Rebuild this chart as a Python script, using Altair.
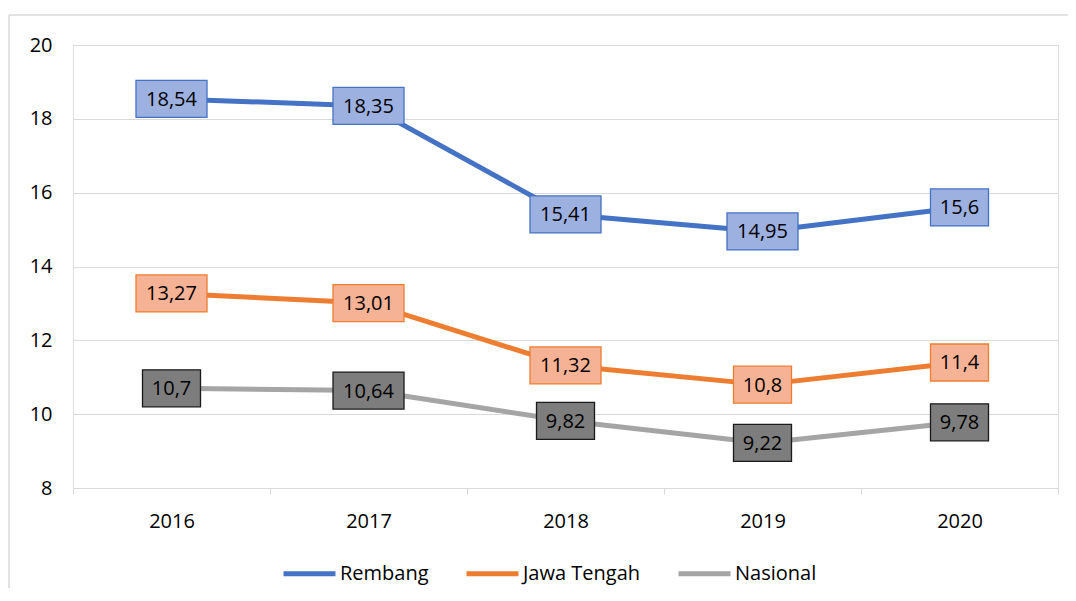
import altair as alt
import pandas as pd

years = ["2016", "2017", "2018", "2019", "2020"]
series_names = ["Rembang", "Jawa Tengah", "Nasional"]
rembang = [18.54, 18.35, 15.41, 14.95, 15.6]
jawa_tengah = [13.27, 13.01, 11.32, 10.8, 11.4]
nasional = [10.7, 10.64, 9.82, 9.22, 9.78]
y_ticks = [8, 10, 12, 14, 16, 18, 20]

line_colors = ["#4472C4", "#ED7D31", "#A5A5A5"]
box_fills = ["#9DB1E1", "#F6B294", "#7D7D7D"]
box_strokes = ["#4472C4", "#ED7D31", "#1A1A1A"]

rows = []
for name, vals in zip(series_names, [rembang, jawa_tengah, nasional]):
    for y, v in zip(years, vals):
        rows.append({"year": y, "series": name, "value": v})
df = pd.DataFrame(rows)

FONT = "Open Sans"

x_enc = alt.X("year:N", scale=alt.Scale(type="band", domain=years, paddingInner=0, paddingOuter=0),
              axis=alt.Axis(title=None, labelAngle=0, domainColor="#D9D9D9", tickColor="#D9D9D9",
                            tickSize=6, tickBand="extent", labelPadding=17, labelFontSize=20,
                            labelFont=FONT, labelColor="#000000", grid=False))
y_enc = alt.Y("value:Q", scale=alt.Scale(domain=[8, 20], nice=False, zero=False),
              axis=alt.Axis(title=None, values=y_ticks, domain=False, ticks=False, tickSize=0,
                            labelPadding=21, labelFontSize=20, labelFont=FONT, labelColor="#000000",
                            gridColor="#D9D9D9", gridWidth=1))

base = alt.Chart(df)

lines = base.mark_line(strokeWidth=5, strokeCap="round", strokeJoin="round").encode(
    x=x_enc, y=y_enc,
    color=alt.Color("series:N", scale=alt.Scale(domain=series_names, range=line_colors),
                    legend=alt.Legend(title=None, orient="none", direction="horizontal",
                                      legendX=208, legendY=500, symbolType="stroke",
                                      symbolSize=2704, symbolStrokeWidth=5, labelFontSize=20,
                                      labelFont=FONT, labelColor="#000000", labelOffset=2,
                                      columnPadding=27, padding=0)),
    detail="series:N",
)

path5 = "M-1,-0.521L1,-0.521L1,0.521L-1,0.521Z"
path4 = "M-1,-0.638L1,-0.638L1,0.638L-1,0.638Z"

boxes = base.transform_calculate(
    lab="replace(toString(datum.value), '.', ',')"
).mark_point(filled=False, opacity=1, strokeWidth=1.3, fillOpacity=1).encode(
    x=alt.X("year:N", scale=alt.Scale(type="band", domain=years, paddingInner=0, paddingOuter=0)),
    y=alt.Y("value:Q"),
    fill=alt.Fill("series:N", scale=alt.Scale(domain=series_names, range=box_fills), legend=None),
    stroke=alt.Stroke("series:N", scale=alt.Scale(domain=series_names, range=box_strokes), legend=None),
    shape=alt.condition("length(datum.lab) > 4", alt.value(path5), alt.value(path4)),
    size=alt.condition("length(datum.lab) > 4", alt.value(5041), alt.value(3364)),
)

texts = base.transform_calculate(
    lab="replace(toString(datum.value), '.', ',')"
).mark_text(fontSize=20, font=FONT, color="#000000", baseline="middle", align="center", dy=1).encode(
    x=alt.X("year:N", scale=alt.Scale(type="band", domain=years, paddingInner=0, paddingOuter=0)),
    y=alt.Y("value:Q"),
    text="lab:N",
)

frame_left = alt.Chart(pd.DataFrame({"a": [0]})).mark_rule(color="#D9D9D9", strokeWidth=1.5).encode(
    x=alt.value(-64), y=alt.value(-30), y2=alt.value(560))
frame_top = alt.Chart(pd.DataFrame({"a": [0]})).mark_rule(color="#D9D9D9", strokeWidth=1.5).encode(
    x=alt.value(-64), x2=alt.value(1005), y=alt.value(-30))

chart = alt.layer(frame_left, frame_top, lines, boxes, texts).resolve_scale(
    fill="independent", stroke="independent"
).properties(
    width=985, height=443,
    autosize=alt.AutoSizeParams(type="none"),
    padding={"left": 65, "top": 37, "right": 10, "bottom": 100},
).configure_view(stroke=None).configure(background="#FFFFFF")

chart.save("out.html", embed_options={"renderer": "svg", "actions": False})
